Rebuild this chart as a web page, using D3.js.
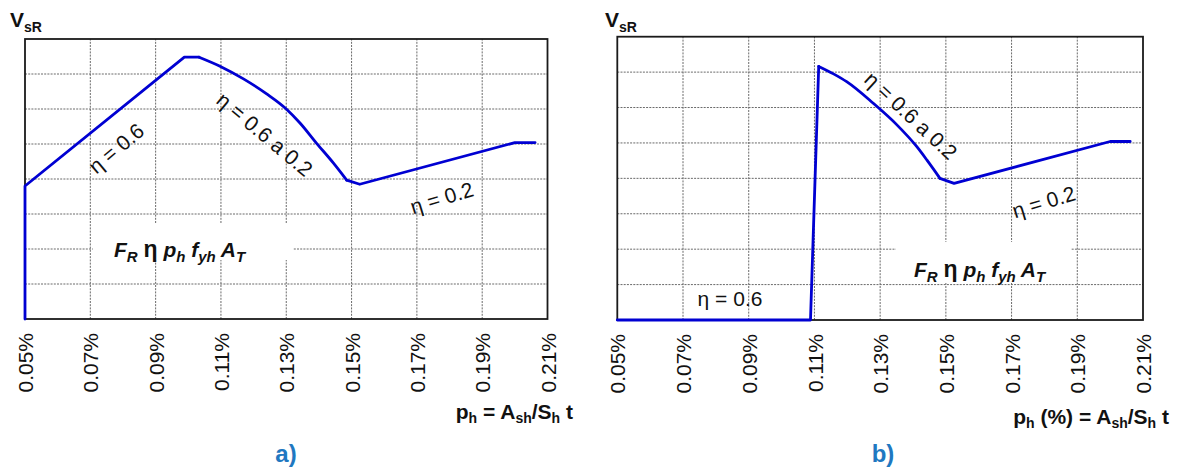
<!DOCTYPE html>
<html>
<head>
<meta charset="utf-8">
<script src="https://cdn.jsdelivr.net/npm/d3@7"></script>
<style>
  html, body { margin: 0; padding: 0; background: #fff; }
  svg { display: block; }
  text { font-family: "Liberation Sans", Arial, sans-serif; }
</style>
</head>
<body>
<svg id="chart" width="1177" height="470"></svg>
<script>
// ---- data ----
const tickValues = [0.05, 0.07, 0.09, 0.11, 0.13, 0.15, 0.17, 0.19, 0.21];
const gridLevels = [1, 2, 3, 4, 5, 6, 7];

// panel a) : p_h (%) vs V_sR (grid units)
const aPh = [0.05, 0.05, 0.0988, 0.1033, 0.110, 0.1169, 0.124, 0.130, 0.1342, 0.1393, 0.1444, 0.1485, 0.1525, 0.200, 0.2062];
const aV  = [0,    3.80, 7.48,   7.48,   7.21,  6.86,   6.43,  6.00,  5.60,   5.02,   4.46,   3.97,   3.85,   5.04,  5.04];
const aCurve = [3, 11];   // index range of the smooth falling branch

// panel b)
const bPh = [0.05, 0.1088, 0.1113, 0.1158, 0.1198, 0.1279, 0.1351, 0.1411, 0.1442, 0.1482, 0.1525, 0.200, 0.2061];
const bV  = [0,    0,      7.16,   6.95,   6.73,   6.12,   5.51,   4.90,   4.52,   4.00,   3.86,   5.04,  5.04];
const bCurve = [2, 9];

const svg = d3.select("#chart");
const BLUE = "#0000d2";
const FONT = "Liberation Sans, Arial, sans-serif";

function panel(cfg) {
  const x = d3.scaleLinear().domain([0.05, 0.21]).range([cfg.x0, cfg.x1]);
  const y = d3.scaleLinear().domain([0, 8]).range([cfg.y1, cfg.y0]);
  const g = svg.append("g");

  // grid
  g.append("g").selectAll("line").data(tickValues.slice(1, -1)).join("line")
    .attr("x1", d => x(d)).attr("x2", d => x(d))
    .attr("y1", y(0)).attr("y2", y(8))
    .attr("stroke", "#6a6a6a").attr("stroke-width", 1).attr("stroke-dasharray", "2,1.2");
  g.append("g").selectAll("line").data(gridLevels).join("line")
    .attr("x1", x(0.05)).attr("x2", x(0.21))
    .attr("y1", d => y(d)).attr("y2", d => y(d))
    .attr("stroke", "#6a6a6a").attr("stroke-width", 1).attr("stroke-dasharray", "2,1.2");

  // white box behind formula
  g.append("rect").attr("x", cfg.box[0]).attr("y", cfg.box[1])
    .attr("width", cfg.box[2]).attr("height", cfg.box[3]).attr("fill", "#fff");

  // border
  g.append("rect").attr("x", x(0.05)).attr("y", y(8))
    .attr("width", x(0.21) - x(0.05)).attr("height", y(0) - y(8))
    .attr("fill", "none").attr("stroke", "#1a1a1a").attr("stroke-width", 1.8);

  // x axis (tick labels only)
  const ax = d3.axisBottom(x).tickValues(tickValues).tickSize(0)
    .tickFormat(d => d.toFixed(2) + "%");
  const axg = g.append("g").attr("transform", `translate(0,${y(0)})`).call(ax);
  axg.select(".domain").remove();
  axg.attr("font-family", FONT).attr("font-size", 21);
  axg.selectAll("text")
    .attr("transform", "rotate(-90)")
    .attr("x", -14).attr("y", 0).attr("dy", "0.36em")
    .attr("text-anchor", "end")
    .attr("fill", "#111");

  // curve: linear pieces + smooth falling branch
  const pts = cfg.ph.map((p, i) => [p, cfg.v[i]]);
  const lin = d3.line().x(d => x(d[0])).y(d => y(d[1]));
  const smooth = d3.line().x(d => x(d[0])).y(d => y(d[1])).curve(d3.curveMonotoneX);
  const [s, e] = cfg.curve;
  [[pts.slice(0, s + 1), lin], [pts.slice(s, e + 1), smooth], [pts.slice(e), lin]].forEach(([seg, gen]) => {
    g.append("path").datum(seg).attr("d", gen)
      .attr("fill", "none").attr("stroke", BLUE).attr("stroke-width", 2.8)
      .attr("stroke-linejoin", "round").attr("stroke-linecap", "round");
  });

  // V_sR label
  const vl = g.append("text").attr("x", cfg.vlab[0]).attr("y", cfg.vlab[1])
    .attr("font-weight", "bold").attr("fill", "#111");
  vl.append("tspan").attr("font-size", 21).text("V");
  vl.append("tspan").attr("font-size", 14).attr("dy", 5).text("sR");

  // x axis title
  const xt = g.append("text").attr("x", cfg.xlab[0]).attr("y", cfg.xlab[1])
    .attr("text-anchor", "end").attr("font-weight", "bold").attr("fill", "#111");
  cfg.xparts.forEach(p => {
    xt.append("tspan").attr("font-size", p[1] ? 14 : 21).attr("dy", p[2]).text(p[0]);
  });

  // formula
  const ft = g.append("text").attr("x", cfg.form[0]).attr("y", cfg.form[1])
    .attr("font-weight", "bold").attr("font-style", "italic").attr("fill", "#111");
  [["F", 0, 0], ["R", 1, 5], [" ", 0, -5], ["η", 0, 0, true], [" p", 0, 0], ["h", 1, 5], [" f", 0, -5], ["yh", 1, 5], [" A", 0, -5], ["T", 1, 5]]
    .forEach(p => {
      const t = ft.append("tspan").attr("font-size", p[1] ? 15 : 21).attr("dy", p[2]).text(p[0]);
      if (p[3]) t.attr("font-style", "normal").attr("font-size", 23);
    });

  // annotations
  cfg.notes.forEach(n => {
    g.append("text").attr("transform", `translate(${n[0]},${n[1]}) rotate(${n[2]})`)
      .attr("text-anchor", "middle").attr("font-size", 21).attr("fill", "#111")
      .text(n[3]);
  });

  // caption
  g.append("text").attr("x", cfg.cap[0]).attr("y", cfg.cap[1])
    .attr("text-anchor", "middle").attr("font-size", 24).attr("font-weight", "bold")
    .attr("fill", "#1f78c1").attr("font-family", "Open Sans, Lato, sans-serif")
    .text(cfg.cap[2]);
}

panel({
  x0: 25, x1: 547.5, y0: 39, y1: 319,
  ph: aPh, v: aV, curve: aCurve,
  box: [93, 223, 200, 37],
  vlab: [10, 27],
  xlab: [573, 419],
  xparts: [["p", 0, 0], ["h", 1, 4], [" = A", 0, -4], ["sh", 1, 4], ["/S", 0, -4], ["h", 1, 4], [" t", 0, -4]],
  form: [114, 257],
  notes: [[121, 154, -40, "η = 0.6"], [260, 140, 40, "η = 0.6 a 0.2"], [444, 205, -17, "η = 0.2"]],
  cap: [286, 462, "a)"]
});

panel({
  x0: 617.3, x1: 1143, y0: 36.7, y1: 320,
  ph: bPh, v: bV, curve: bCurve,
  box: [896, 242, 175, 41],
  vlab: [605, 27],
  xlab: [1169, 424],
  xparts: [["p", 0, 0], ["h", 1, 4], [" (%) = A", 0, -4], ["sh", 1, 4], ["/S", 0, -4], ["h", 1, 4], [" t", 0, -4]],
  form: [914, 277],
  notes: [[906, 121, 43, "η = 0.6 a 0.2"], [1046, 209, -17, "η = 0.2"], [730, 306, 0, "η = 0.6"]],
  cap: [883, 462, "b)"]
});
</script>
</body>
</html>
